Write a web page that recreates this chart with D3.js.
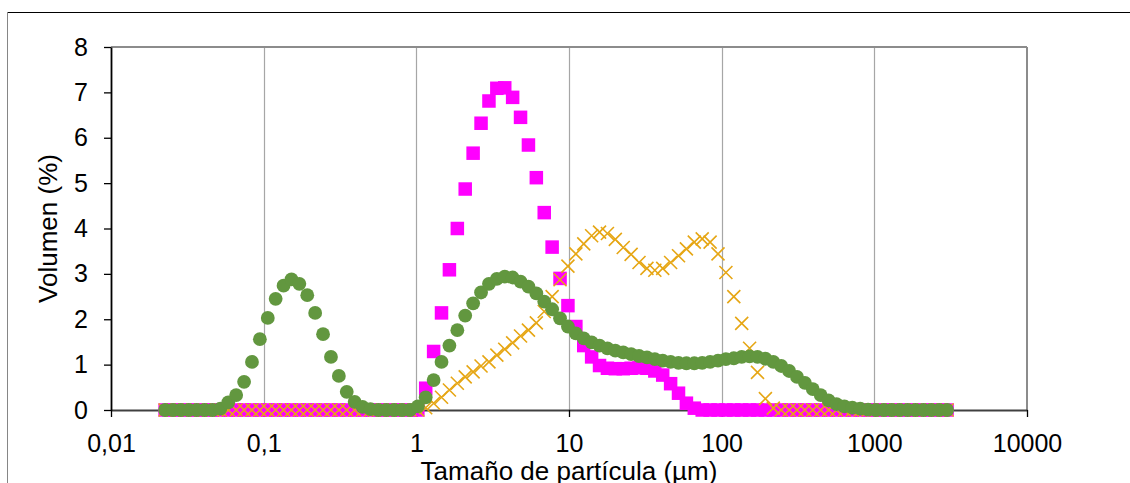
<!DOCTYPE html>
<html>
<head>
<meta charset="utf-8">
<script src="https://cdn.jsdelivr.net/npm/d3@7"></script>
<style>
  html, body { margin: 0; padding: 0; background: #fff; }
  svg { display: block; font-family: "Liberation Sans", Arial, sans-serif; }
</style>
</head>
<body>
<svg id="chart" width="1130" height="483"></svg>
<script>
// Particle size classes (µm)
const sizes = [0.02261,0.02547,0.02869,0.03232,0.03641,0.04102,0.04621,0.05205,0.05864,0.06606,
  0.07442,0.08383,0.09444,0.1064,0.1198,0.1350,0.1521,0.1713,0.1930,0.2174,
  0.2449,0.2759,0.3108,0.3501,0.3944,0.4443,0.5005,0.5638,0.6351,0.7155,
  0.8061,0.9081,1.023,1.152,1.298,1.462,1.647,1.856,2.090,2.355,
  2.654,2.990,3.368,3.794,4.274,4.815,5.424,6.110,6.883,7.754,
  8.736,9.841,11.09,12.49,14.07,15.85,17.85,20.11,22.66,25.52,
  28.75,32.39,36.49,41.10,46.30,52.16,58.76,66.19,74.57,84.00,
  94.65,106.6,120.1,135.3,152.4,171.7,193.4,217.9,245.5,276.5,
  311.5,350.9,395.3,445.3,501.6,565.1,636.6,717.1,807.8,910.0,
  1025,1155,1301,1466,1651,1860,2096,2361,2659,2996];

// Volume (%) — magenta squares
const squaresSeries = [0,0,0,0,0,0,0,0,0,0,
  0,0,0,0,0,0,0,0,0,0,
  0,0,0,0,0,0,0,0,0,0,
  0,0,0,0.48,1.29,2.14,3.09,4.00,4.87,5.66,
  6.32,6.81,7.09,7.10,6.89,6.45,5.84,5.12,4.35,3.59,
  2.90,2.30,1.84,1.42,1.17,0.98,0.92,0.91,0.91,0.92,
  0.93,0.92,0.86,0.77,0.58,0.37,0.15,0.04,0,0,
  0,0,0,0,0,0,0,0,0,0,
  0,0,0,0,0,0,0,0,0,0,
  0,0,0,0,0,0,0,0,0,0];

// Volume (%) — orange crosses
const crossesSeries = [0,0,0,0,0,0,0,0,0,0,
  0,0,0,0,0,0,0,0,0,0,
  0,0,0,0,0,0,0,0,0,0,
  0,0,0,0.05,0.15,0.28,0.44,0.59,0.73,0.84,
  0.97,1.06,1.21,1.34,1.48,1.63,1.76,1.92,2.17,2.50,
  2.87,3.17,3.44,3.66,3.84,3.92,3.89,3.76,3.58,3.43,
  3.25,3.12,3.08,3.12,3.25,3.40,3.55,3.70,3.77,3.70,
  3.44,3.03,2.50,1.91,1.36,0.83,0.25,0.04,0,0,
  0,0,0,0,0,0,0,0,0,0,
  0,0,0,0,0,0,0,0,0,0];

// Volume (%) — green circles
const circlesSeries = [0,0,0,0,0,0,0,0.03,0.17,0.33,
  0.62,1.06,1.56,2.03,2.45,2.74,2.88,2.78,2.53,2.14,
  1.67,1.17,0.75,0.40,0.18,0.07,0.02,0,0,0,
  0,0,0.08,0.28,0.66,1.06,1.42,1.76,2.08,2.35,
  2.59,2.78,2.89,2.94,2.92,2.83,2.72,2.57,2.39,2.22,
  2.02,1.84,1.69,1.58,1.49,1.42,1.36,1.31,1.27,1.23,
  1.19,1.16,1.12,1.09,1.06,1.04,1.03,1.03,1.04,1.06,
  1.09,1.12,1.14,1.17,1.18,1.17,1.13,1.06,0.97,0.86,
  0.73,0.60,0.46,0.33,0.21,0.13,0.08,0.05,0.03,0.01,
  0,0,0,0,0,0,0,0,0,0];

const xTickValues = [0.01, 0.1, 1, 10, 100, 1000, 10000];
const xTickLabels = ["0,01", "0,1", "1", "10", "100", "1000", "10000"];
const yTickValues = [0, 1, 2, 3, 4, 5, 6, 7, 8];
const xTitle = "Tamaño de partícula (µm)";
const yTitle = "Volumen (%)";

const svg = d3.select("#chart");
const L = 111, R = 1027, T = 47, B = 410;

const x = d3.scaleLog().domain([0.01, 10000]).range([L, R]);
const y = d3.scaleLinear().domain([0, 8]).range([B, T]);

// outer chart border (only top/left visible)
svg.append("line").attr("x1", 7).attr("x2", 1130).attr("y1", 12.5).attr("y2", 12.5)
  .attr("stroke", "#000").attr("stroke-width", 1);
svg.append("line").attr("x1", 7.5).attr("x2", 7.5).attr("y1", 12).attr("y2", 483)
  .attr("stroke", "#868686").attr("stroke-width", 1);

// vertical gridlines
svg.append("g").selectAll("line")
  .data(xTickValues.slice(1, -1))
  .join("line")
  .attr("x1", d => Math.round(x(d)) + 0.5).attr("x2", d => Math.round(x(d)) + 0.5)
  .attr("y1", T).attr("y2", B)
  .attr("stroke", "#a6a6a6").attr("stroke-width", 1.2);

// frame top & right
svg.append("line").attr("x1", L).attr("x2", R).attr("y1", T).attr("y2", T)
  .attr("stroke", "#8c8c8c").attr("stroke-width", 2);
svg.append("line").attr("x1", R).attr("x2", R).attr("y1", T).attr("y2", B)
  .attr("stroke", "#8c8c8c").attr("stroke-width", 2);

// axes
const xAxis = d3.axisBottom(x).tickValues(xTickValues)
  .tickFormat((d, i) => xTickLabels[i]).tickSize(7).tickSizeOuter(0);
const gx = svg.append("g").attr("transform", `translate(0,${B})`).call(xAxis);
gx.select(".domain").attr("stroke", "#404040").attr("stroke-width", 2);
gx.selectAll(".tick line").attr("stroke", "#000").attr("stroke-width", 1.3);
gx.selectAll(".tick text").attr("y", 42).attr("dy", 0)
  .attr("font-size", 25).attr("fill", "#000")
  .attr("font-family", "'Liberation Sans', Arial, sans-serif");

const yAxis = d3.axisLeft(y).tickValues(yTickValues).tickSize(7).tickPadding(16).tickSizeOuter(0);
const gy = svg.append("g").attr("transform", `translate(${L},0)`).call(yAxis);
gy.select(".domain").attr("stroke", "#000").attr("stroke-width", 1.8);
gy.selectAll(".tick line").attr("stroke", "#000").attr("stroke-width", 1.3);
gy.selectAll(".tick text").attr("font-size", 25).attr("fill", "#000")
  .attr("font-family", "'Liberation Sans', Arial, sans-serif");

// titles
svg.append("text").attr("x", (L + R) / 2).attr("y", 480)
  .attr("text-anchor", "middle").attr("font-size", 26).attr("fill", "#000")
  .text(xTitle);
svg.append("text")
  .attr("transform", `translate(57,${(T + B) / 2}) rotate(-90)`)
  .attr("text-anchor", "middle").attr("font-size", 26).attr("fill", "#000")
  .text(yTitle);

// data
const rows = sizes.map((s, i) => ({ s, a: squaresSeries[i], b: crossesSeries[i], c: circlesSeries[i] }));
const plot = svg.append("g");

const sq = 13.5;
plot.append("g").selectAll("rect").data(rows).join("rect")
  .attr("x", d => x(d.s) - sq / 2).attr("y", d => y(d.a) - sq / 2)
  .attr("width", sq).attr("height", sq)
  .attr("fill", "#ff00ff");

const cs = 6.5;
plot.append("g").selectAll("path").data(rows).join("path")
  .attr("d", d => {
    const cx = x(d.s), cy = y(d.b);
    return `M${cx - cs},${cy - cs}L${cx + cs},${cy + cs}M${cx - cs},${cy + cs}L${cx + cs},${cy - cs}`;
  })
  .attr("stroke", "#e6a614").attr("stroke-width", 1.6).attr("fill", "none");

plot.append("g").selectAll("circle").data(rows).join("circle")
  .attr("cx", d => x(d.s)).attr("cy", d => y(d.c)).attr("r", 6.9)
  .attr("fill", "#62973f");
</script>
</body>
</html>
